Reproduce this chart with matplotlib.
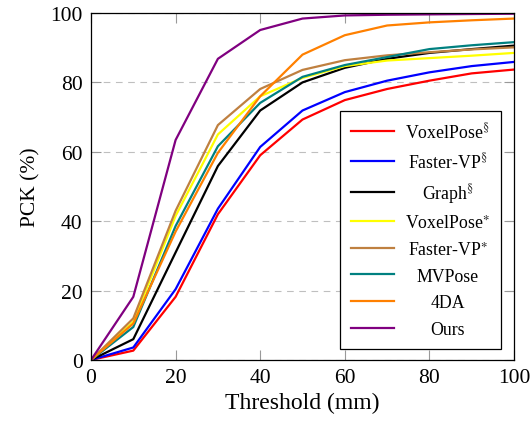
import numpy as np
import matplotlib
matplotlib.use("Agg")
import matplotlib.pyplot as plt

plt.rcParams['font.family'] = ['Liberation Serif', 'DejaVu Serif']
plt.rcParams['mathtext.fontset'] = 'stix'

# thresholds (mm)
thresholds = [0, 10, 20, 30, 40, 50, 60, 70, 80, 90, 100]

# PCK (%) per method
voxelpose_s = [0, 2.7, 18.2, 42.0, 59.0, 69.3, 74.9, 78.1, 80.5, 82.6, 83.7]
fastervp_s = [0, 3.6, 20.4, 43.6, 61.4, 71.9, 77.2, 80.5, 82.9, 84.7, 85.9]
graph_s = [0, 6.0, 31.0, 55.9, 71.9, 80.0, 84.2, 86.8, 88.5, 89.6, 90.6]
voxelpose_a = [0, 11.0, 41.5, 65.0, 76.0, 81.3, 84.7, 86.3, 87.0, 87.7, 88.5]
fastervp_a = [0, 12.0, 43.0, 67.7, 78.1, 83.6, 86.4, 87.8, 88.7, 89.5, 90.1]
mvpose = [0, 9.5, 38.6, 61.6, 74.1, 81.6, 85.0, 87.3, 89.6, 90.7, 91.6]
fourda = [0, 10.5, 37.0, 59.7, 76.0, 88.0, 93.6, 96.4, 97.3, 97.9, 98.4]
ours = [0, 18.2, 63.4, 86.8, 95.1, 98.4, 99.3, 99.5, 99.6, 99.7, 99.8]

labels = [r'VoxelPose$^{\S}$', r'Faster-VP$^{\S}$', r'Graph$^{\S}$',
          r'VoxelPose$^{\ast}$', r'Faster-VP$^{\ast}$', 'MVPose', '4DA', 'Ours']
series = [voxelpose_s, fastervp_s, graph_s, voxelpose_a, fastervp_a,
          mvpose, fourda, ours]
colors = ['#ff0000', '#0000ff', '#000000', '#ffff00', '#bf8040',
          '#008080', '#ff8000', '#800080']

fig = plt.figure(figsize=(5.3, 4.27), dpi=100)
ax = fig.add_axes([0.1717, 0.1546, 0.7981, 0.8126])

for vals, lab, c in zip(series, labels, colors):
    ax.plot(thresholds, vals, color=c, lw=1.6, label=lab)

ax.set_xlim(0, 100)
ax.set_ylim(0, 100)
ax.set_xticks(np.arange(0, 101, 20))
ax.set_yticks(np.arange(0, 101, 20))
ax.tick_params(direction='in', length=7, width=0.8, color='0.6',
               top=True, right=True, labelsize=15.5, pad=6)
for s in ax.spines.values():
    s.set_linewidth(0.9)
ax.yaxis.grid(True, linestyle=(0, (6, 5)), color='0.75', lw=0.8)
ax.set_axisbelow(True)

ax.set_xlabel('Threshold (mm)', fontsize=17, labelpad=3)
ax.set_ylabel('PCK (%)', fontsize=15.5, labelpad=7)

leg = ax.legend(loc='lower right', bbox_to_anchor=(0.969, 0.032),
                borderaxespad=0, fontsize=12.8, frameon=True, fancybox=False,
                edgecolor='black', framealpha=1, handlelength=2.45,
                labelspacing=0.54, borderpad=0.62, handletextpad=0.6)
leg.get_frame().set_linewidth(0.9)

# center legend texts like pgfplots does
fig.canvas.draw()
r = fig.canvas.get_renderer()
texts = leg.get_texts()
widths = [t.get_window_extent(r).width for t in texts]
maxw = max(widths)
for t, w in zip(texts, widths):
    t.set_position(((maxw - w) / 2, 0))

fig.savefig('out.png', dpi=100)
